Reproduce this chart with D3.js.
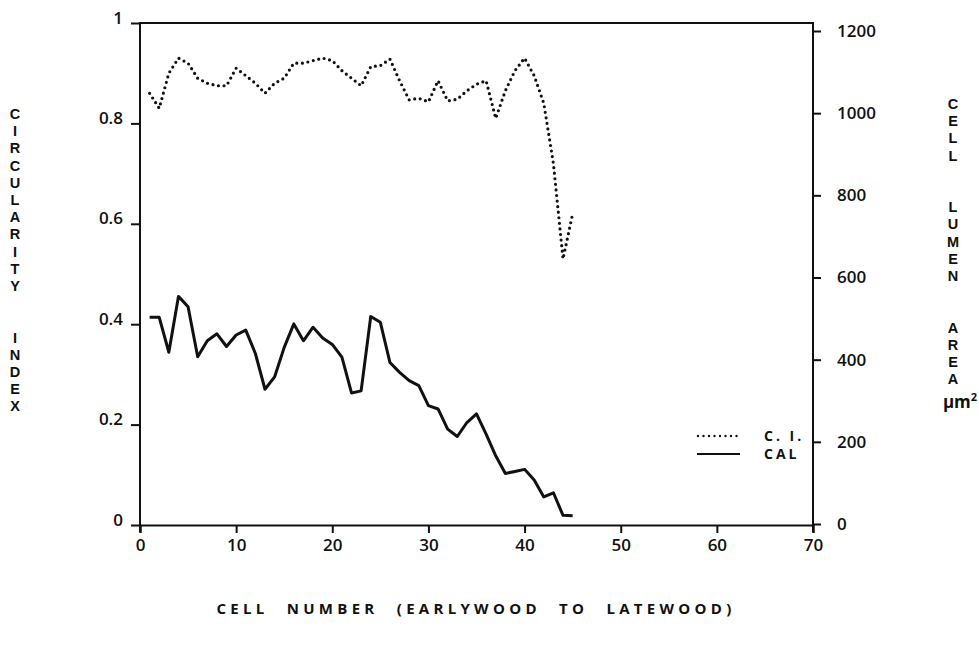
<!DOCTYPE html>
<html>
<head>
<meta charset="utf-8">
<script src="https://cdn.jsdelivr.net/npm/d3@7"></script>
<style>
  body { margin: 0; background: #fff; }
  text { font-family: "Open Sans", "Liberation Sans", sans-serif; fill: #111; }
  .letter { font-family: "Liberation Sans", Arial, sans-serif; }
</style>
</head>
<body>
<script>
// window size
var w = 979;
var h = 647;

// cell numbers 1..45
var cells = [1, 2, 3, 4, 5, 6, 7, 8, 9, 10, 11, 12, 13, 14, 15, 16, 17, 18, 19, 20,
             21, 22, 23, 24, 25, 26, 27, 28, 29, 30, 31, 32, 33, 34, 35, 36, 37, 38, 39, 40,
             41, 42, 43, 44, 45];

// circularity index (left axis, dotted)
var circularity = [0.86, 0.83, 0.90, 0.93, 0.92, 0.89, 0.88, 0.875, 0.875, 0.91,
                   0.895, 0.88, 0.86, 0.88, 0.89, 0.92, 0.92, 0.925, 0.93, 0.925,
                   0.905, 0.89, 0.875, 0.913, 0.915, 0.928, 0.885, 0.847, 0.85, 0.843,
                   0.885, 0.845, 0.848, 0.865, 0.878, 0.885, 0.81, 0.865, 0.905, 0.93,
                   0.895, 0.84, 0.72, 0.53, 0.62];

// cell lumen area in um^2 (right axis, solid)
var lumenArea = [503, 503, 418, 554, 529, 407, 446, 463, 432, 460,
                 472, 415, 328, 358, 430, 487, 446, 479, 453, 437,
                 406, 319, 324, 505, 491, 393, 369, 349, 337, 288,
                 280, 231, 213, 247, 268, 219, 166, 123, 128, 133,
                 107, 66, 76, 21, 20];

// tick values
var xTicks = [0, 10, 20, 30, 40, 50, 60, 70];
var leftTicks = [0, 0.2, 0.4, 0.6, 0.8, 1];
var rightTicks = [0, 200, 400, 600, 800, 1000, 1200];

var svg = d3.select("body")
            .append("svg")
            .attr("width", w)
            .attr("height", h);

// scales
var x = d3.scaleLinear().domain([0, 70]).range([140, 813]);
var yLeft = d3.scaleLinear().domain([0, 1]).range([525, 23]);
var yRight = d3.scaleLinear().domain([0, 1200]).range([524, 31]);

// frame: top line, left and right axes
svg.append("path")
   .attr("d", "M140,532 V23 H813 V532")
   .attr("fill", "none")
   .attr("stroke", "#111")
   .attr("stroke-width", 2);

// x axis
var xAxis = svg.append("g")
   .attr("transform", "translate(0,525)")
   .call(d3.axisBottom(x).tickValues(xTicks).tickSize(8).tickPadding(6));
xAxis.select(".domain").attr("stroke-width", 2).attr("stroke", "#111");
xAxis.selectAll(".tick line").attr("stroke-width", 2).attr("stroke", "#111");
xAxis.selectAll("text").attr("font-size", 17).attr("font-weight", 600).attr("fill", "#111");

// left axis
var lAxis = svg.append("g")
   .attr("transform", "translate(140,0)")
   .call(d3.axisLeft(yLeft).tickValues(leftTicks).tickSize(9).tickPadding(8)
         .tickFormat(function(d) { return d === 0 || d === 1 ? d : d3.format(".1f")(d); }));
lAxis.select(".domain").remove();
lAxis.selectAll(".tick line").attr("stroke-width", 2).attr("stroke", "#111");
lAxis.selectAll("text").attr("font-size", 17).attr("font-weight", 600)
     .attr("dy", "0em").attr("fill", "#111");

// right axis
var rAxis = svg.append("g")
   .attr("transform", "translate(813,0)")
   .call(d3.axisRight(yRight).tickValues(rightTicks).tickSize(8).tickPadding(16)
         .tickFormat(d3.format("d")));
rAxis.select(".domain").remove();
rAxis.selectAll(".tick line").attr("stroke-width", 2).attr("stroke", "#111");
rAxis.selectAll("text").attr("font-size", 17).attr("font-weight", 600).attr("fill", "#111");

// lines
var ciLine = d3.line()
    .x(function(d, i) { return x(cells[i]); })
    .y(function(d) { return yLeft(d); });

var calLine = d3.line()
    .x(function(d, i) { return x(cells[i]); })
    .y(function(d) { return yRight(d); });

svg.append("path")
   .datum(circularity)
   .attr("d", ciLine)
   .attr("fill", "none")
   .attr("stroke", "#111")
   .attr("stroke-width", 3.2)
   .attr("stroke-linecap", "round")
   .attr("stroke-dasharray", "0 5.6");

svg.append("path")
   .datum(lumenArea)
   .attr("d", calLine)
   .attr("fill", "none")
   .attr("stroke", "#111")
   .attr("stroke-width", 3)
   .attr("stroke-linejoin", "round");

// legend
var legend = svg.append("g");
legend.append("line")
      .attr("x1", 698).attr("x2", 738).attr("y1", 436).attr("y2", 436)
      .attr("stroke", "#111").attr("stroke-width", 2.4)
      .attr("stroke-linecap", "round").attr("stroke-dasharray", "0 5.5");
legend.append("line")
      .attr("x1", 697).attr("x2", 740).attr("y1", 454).attr("y2", 454)
      .attr("stroke", "#111").attr("stroke-width", 2);
legend.append("text").attr("x", 764).attr("y", 441)
      .attr("font-size", 14).attr("font-weight", 700).attr("letter-spacing", 3)
      .text("C. I.");
legend.append("text").attr("x", 764).attr("y", 459)
      .attr("font-size", 14).attr("font-weight", 700).attr("letter-spacing", 3)
      .text("CAL");

// stacked vertical titles, one letter per text, blanks skipped
function stacked(letters, cx, top, step) {
    var items = letters.split("").map(function(c, i) { return { c: c, i: i }; })
                       .filter(function(d) { return d.c !== " "; });
    svg.append("g").selectAll("text")
       .data(items)
       .enter()
       .append("text")
       .attr("class", "letter")
       .attr("x", cx)
       .attr("y", function(d) { return top + d.i * step; })
       .attr("text-anchor", "middle")
       .attr("font-size", 14.5)
       .attr("font-weight", 700)
       .text(function(d) { return d.c; });
}
stacked("CIRCULARITY  INDEX", 15, 119, 17.2);
stacked("CELL  LUMEN  AREA", 953, 109, 17.2);

svg.append("text")
   .attr("x", 960).attr("y", 408)
   .attr("text-anchor", "middle")
   .attr("font-size", 17).attr("font-weight", 700)
   .html("&#956;m<tspan dy='-7' font-size='11'>2</tspan>");

// x title
svg.append("text")
   .attr("x", 476).attr("y", 614)
   .attr("text-anchor", "middle")
   .attr("font-size", 15).attr("font-weight", 700)
   .attr("letter-spacing", 4.3)
   .attr("word-spacing", 10)
   .text("CELL NUMBER (EARLYWOOD TO LATEWOOD)");
</script>
</body>
</html>
